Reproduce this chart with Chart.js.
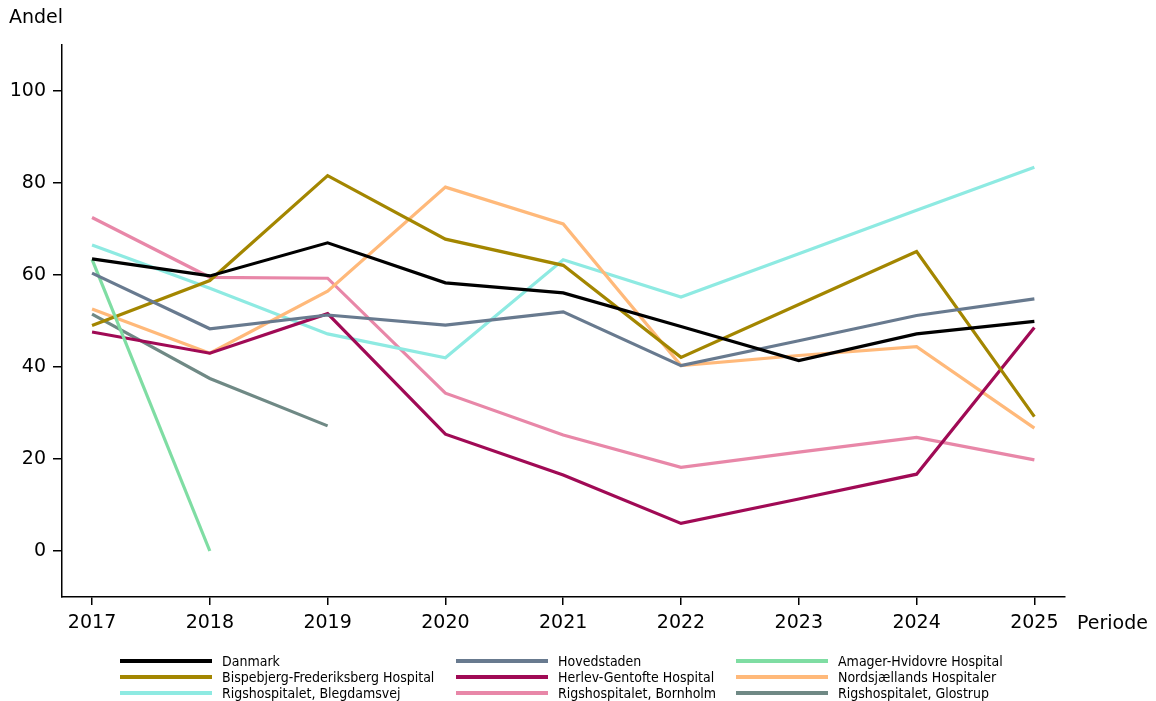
<!DOCTYPE html>
<html>
<head>
<meta charset="utf-8">
<script src="https://cdn.jsdelivr.net/npm/chart.js@4.4.1/dist/chart.umd.min.js"></script>
<style>
    html, body { margin: 0; padding: 0; background: #fff; }
    #wrap { position: relative; width: 1156px; height: 701px; }
</style>
</head>
<body>
<div id="wrap"><canvas id="chart" width="1156" height="701"></canvas></div>
<script>
// Data
const years = [2017, 2018, 2019, 2020, 2021, 2022, 2023, 2024, 2025];
const yTicks = [0, 20, 40, 60, 80, 100];

const danmark      = [63.5, 59.8, 67.0, 58.3, 56.1, 48.8, 41.4, 47.2, 49.9];
const hovedstaden  = [60.4, 48.3, 51.3, 49.1, 52.0, 40.3, 45.7, 51.2, 54.8];
const amager       = [63.4, 0.0, null, null, null, null, null, null, null];
const bispebjerg   = [49.0, 58.8, 81.6, 67.8, 62.1, 42.1, 53.6, 65.1, 29.2];
const herlev       = [47.6, 43.0, 51.6, 25.4, 16.5, 6.0, 11.3, 16.7, 48.6];
const nordsjaelland = [52.6, 43.0, 56.5, 79.1, 71.1, 40.3, 42.5, 44.4, 26.7];
const blegdamsvej  = [66.5, 57.1, 47.2, 42.0, 63.3, 55.2, 64.6, 74.1, 83.4];
const bornholm     = [72.5, 59.5, 59.3, 34.3, 25.2, 18.2, 21.5, 24.7, 19.8];
const glostrup     = [51.5, 37.5, 27.2, null, null, null, null, null, null];

const series = [
    { label: 'Danmark', values: danmark, color: '#000000' },
    { label: 'Hovedstaden', values: hovedstaden, color: '#687a8f' },
    { label: 'Amager-Hvidovre Hospital', values: amager, color: '#7fdda3' },
    { label: 'Bispebjerg-Frederiksberg Hospital', values: bispebjerg, color: '#a38600' },
    { label: 'Herlev-Gentofte Hospital', values: herlev, color: '#a00a55' },
    { label: 'Nordsjællands Hospitaler', values: nordsjaelland, color: '#ffb97a' },
    { label: 'Rigshospitalet, Blegdamsvej', values: blegdamsvej, color: '#8eeae2' },
    { label: 'Rigshospitalet, Bornholm', values: bornholm, color: '#e887a8' },
    { label: 'Rigshospitalet, Glostrup', values: glostrup, color: '#6f8985' }
];

const FONT = "'DejaVu Sans', sans-serif";

// Extra texts + legend drawn on the canvas
const extrasPlugin = {
    id: 'extras',
    afterDraw(chart) {
        const ctx = chart.ctx;
        ctx.save();
        ctx.fillStyle = '#000';
        ctx.font = '19px ' + FONT;
        ctx.textBaseline = 'middle';
        ctx.textAlign = 'left';
        ctx.fillText('Andel', 9, 18);
        ctx.fillText('Periode', 1077, 624);

        // legend: 3 columns
        const colX = [120, 456, 736];
        const rowY = [661, 677, 693];
        ctx.font = "14px 'DejaVu Sans Condensed', 'DejaVu Sans', sans-serif";
        chart.data.datasets.forEach((ds, i) => {
            const x = colX[i % 3];
            const y = rowY[Math.floor(i / 3)];
            ctx.strokeStyle = ds.borderColor;
            ctx.lineWidth = 4;
            ctx.beginPath();
            ctx.moveTo(x, y);
            ctx.lineTo(x + 92, y);
            ctx.stroke();
            ctx.fillStyle = '#000';
            ctx.fillText(ds.label, x + 102, y + 1);
        });
        ctx.restore();
    }
};

const ctx = document.getElementById('chart').getContext('2d');
new Chart(ctx, {
    type: 'line',
    data: {
        datasets: series.map(s => ({
            label: s.label,
            data: years.map((yr, i) => ({ x: yr, y: s.values[i] })),
            borderColor: s.color,
            backgroundColor: s.color,
            borderWidth: 3.2,
            pointRadius: 0,
            tension: 0,
            spanGaps: false
        }))
    },
    options: {
        responsive: false,
        animation: false,
        layout: { padding: { left: 0, top: 45, right: 91, bottom: 64 } },
        plugins: {
            legend: { display: false },
            tooltip: { enabled: false }
        },
        scales: {
            x: {
                type: 'linear',
                min: 2016.745,
                max: 2025.26,
                afterBuildTicks: (axis) => { axis.ticks = years.map(v => ({ value: v })); },
                afterFit: (axis) => { axis.height = 40; },
                grid: { display: true, drawOnChartArea: false, drawTicks: true, tickLength: 8, color: '#000', lineWidth: 1.5 },
                border: { display: true, color: '#000', width: 1.5 },
                ticks: {
                    color: '#000',
                    font: { family: FONT, size: 19 },
                    padding: 7,
                    maxRotation: 0,
                    callback: (v) => String(v)
                }
            },
            y: {
                min: -10,
                max: 110,
                afterBuildTicks: (axis) => { axis.ticks = yTicks.map(v => ({ value: v })); },
                afterFit: (axis) => { axis.width = 62; },
                grid: { display: true, drawOnChartArea: false, drawTicks: true, tickLength: 9, color: '#000', lineWidth: 1.5 },
                border: { display: true, color: '#000', width: 1.5 },
                ticks: {
                    color: '#000',
                    font: { family: FONT, size: 19 },
                    padding: 7
                }
            }
        }
    },
    plugins: [extrasPlugin]
});
</script>
</body>
</html>
